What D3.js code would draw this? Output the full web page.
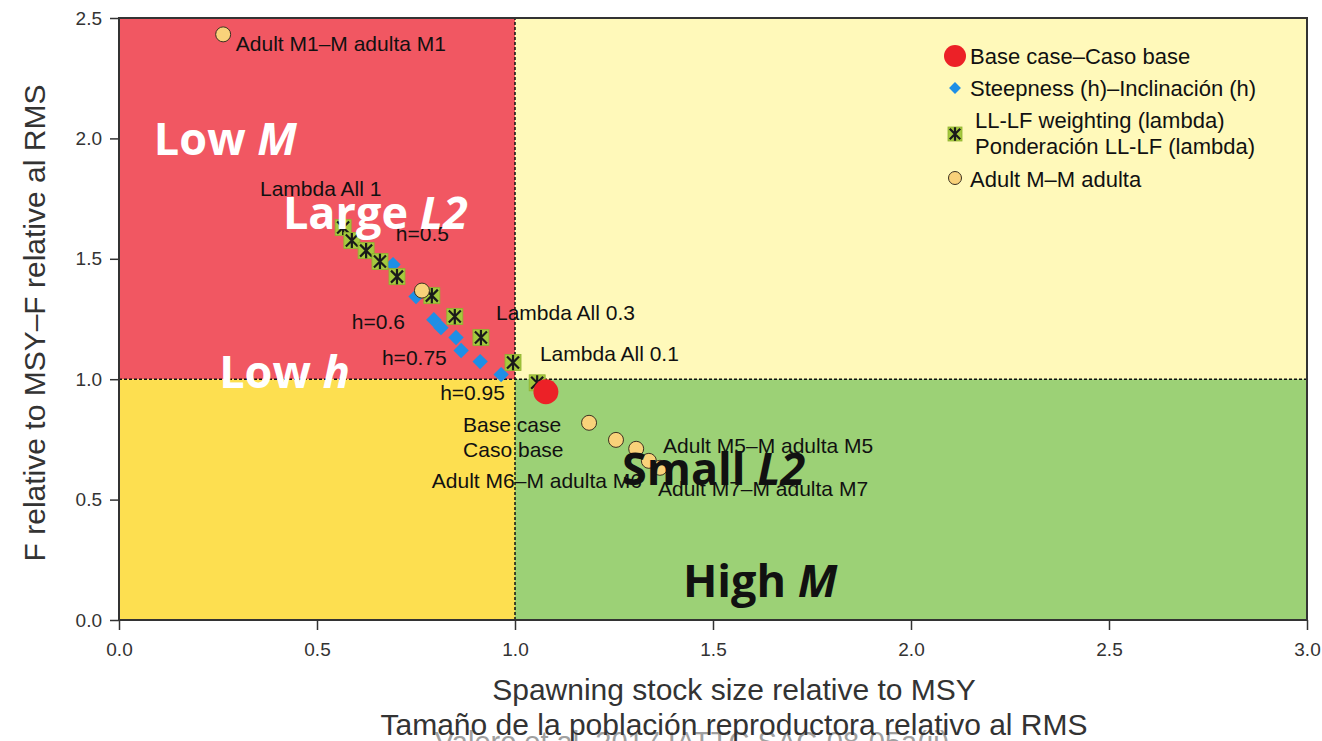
<!DOCTYPE html>
<html>
<head>
<meta charset="utf-8">
<script src="https://cdn.jsdelivr.net/npm/d3@7"></script>
<style>
  body { margin: 0; background: #fff; }
  text { font-family: "Liberation Sans", Arial, sans-serif; }
</style>
</head>
<body>
<svg id="chart" width="1322" height="741"></svg>
<script>
// data
const xTicks = [0, 0.5, 1, 1.5, 2, 2.5, 3];
const yTicks = [0, 0.5, 1, 1.5, 2, 2.5];

const baseCase = [[1.078, 0.948]];
const steepness = [
  [0.692, 1.476], [0.750, 1.343], [0.795, 1.247], [0.813, 1.214],
  [0.851, 1.173], [0.864, 1.119], [0.912, 1.073], [0.965, 1.019]
];
const lambdaPts = [
  [0.566, 1.630], [0.588, 1.576], [0.624, 1.534], [0.659, 1.489], [0.702, 1.426],
  [0.790, 1.347], [0.848, 1.260], [0.914, 1.173], [0.995, 1.069], [1.056, 0.985]
];
const adultM = [
  [0.263, 2.432], [0.765, 1.368], [1.187, 0.819], [1.255, 0.748],
  [1.306, 0.711], [1.338, 0.661], [1.366, 0.632]
];

const pointLabels = [
  { t: "Adult M1\u2013M adulta M1", x: 0.295, y: 2.362 },
  { t: "Lambda All 1", x: 0.356, y: 1.759 },
  { t: "h=0.5", x: 0.699, y: 1.572 },
  { t: "h=0.6", x: 0.588, y: 1.210 },
  { t: "h=0.75", x: 0.664, y: 1.060 },
  { t: "h=0.95", x: 0.811, y: 0.915 },
  { t: "Lambda All 0.3", x: 0.952, y: 1.247 },
  { t: "Lambda All 0.1", x: 1.063, y: 1.077 },
  { t: "Base case", x: 0.869, y: 0.782 },
  { t: "Caso base", x: 0.869, y: 0.678 },
  { t: "Adult M6\u2013M adulta M6", x: 0.790, y: 0.549 },
  { t: "Adult M5\u2013M adulta M5", x: 1.374, y: 0.694 },
  { t: "Adult M7\u2013M adulta M7", x: 1.361, y: 0.516 }
];

const zoneLabels = [
  { a: "Low ", b: "M", x: 0.088, y: 1.933, c: "#fff" },
  { a: "Large ", b: "L2", x: 0.414, y: 1.622, c: "#fff" },
  { a: "Low ", b: "h", x: 0.253, y: 0.965, c: "#fff" },
  { a: "Small ", b: "L2", x: 1.270, y: 0.561, c: "#111" },
  { a: "High ", b: "M", x: 1.424, y: 0.096, c: "#111" }
];

const svg = d3.select("#chart");
const margin = { left: 119, right: 15, top: 18, bottom: 121 };
const W = 1322, H = 741;

const x = d3.scaleLinear().domain([0, 3]).range([margin.left, W - margin.right]);
const y = d3.scaleLinear().domain([0, 2.5]).range([H - margin.bottom, margin.top]);

// quadrants
const quads = [
  { x0: 0, x1: 1, y0: 1, y1: 2.5, c: "#F15762" },
  { x0: 1, x1: 3, y0: 1, y1: 2.5, c: "#FFF9BA" },
  { x0: 0, x1: 1, y0: 0, y1: 1, c: "#FDDF50" },
  { x0: 1, x1: 3, y0: 0, y1: 1, c: "#9CD176" }
];
svg.append("g").selectAll("rect").data(quads).enter().append("rect")
  .attr("x", (d) => x(d.x0))
  .attr("y", (d) => y(d.y1))
  .attr("width", (d) => x(d.x1) - x(d.x0))
  .attr("height", (d) => y(d.y0) - y(d.y1))
  .attr("fill", (d) => d.c);

// reference lines
svg.append("line")
  .attr("x1", x(1)).attr("x2", x(1)).attr("y1", y(0)).attr("y2", y(2.5))
  .attr("stroke", "#111").attr("stroke-width", 1.5).attr("stroke-dasharray", "3,2");
svg.append("line")
  .attr("x1", x(0)).attr("x2", x(3)).attr("y1", y(1)).attr("y2", y(1))
  .attr("stroke", "#111").attr("stroke-width", 1.5).attr("stroke-dasharray", "3,2");

// frame
svg.append("rect")
  .attr("x", x(0)).attr("y", y(2.5))
  .attr("width", x(3) - x(0)).attr("height", y(0) - y(2.5))
  .attr("fill", "none").attr("stroke", "#333").attr("stroke-width", 2);

// axes
const xAxis = svg.append("g")
  .attr("transform", `translate(0,${y(0)})`)
  .call(d3.axisBottom(x).tickValues(xTicks).tickFormat(d3.format(".1f")).tickSize(10).tickPadding(13));
const yAxis = svg.append("g")
  .attr("transform", `translate(${x(0)},0)`)
  .call(d3.axisLeft(y).tickValues(yTicks).tickFormat(d3.format(".1f")).tickSize(9).tickPadding(8));
[xAxis, yAxis].forEach((g) => {
  g.select(".domain").remove();
  g.selectAll(".tick line").attr("stroke", "#333").attr("stroke-width", 1.5);
  g.selectAll(".tick text").attr("fill", "#333").style("font-size", "19px")
    .style("font-family", "'Liberation Sans', Arial, sans-serif");
});

// axis titles
svg.append("text")
  .attr("transform", `translate(45,${(y(0) + y(2.5)) / 2 + 4}) rotate(-90)`)
  .attr("text-anchor", "middle").attr("fill", "#333").style("font-size", "30px")
  .text("F relative to MSY\u2013F relative al RMS");
svg.append("text")
  .attr("x", 692).attr("y", 752).attr("text-anchor", "middle")
  .attr("fill", "#a0a0a0").style("font-size", "29px")
  .text("Valero et al. 2017 IATTC SAC-08-05a(ii)");
svg.append("text")
  .attr("x", 734).attr("y", 700).attr("text-anchor", "middle")
  .attr("fill", "#333").style("font-size", "30px")
  .text("Spawning stock size relative to MSY");
svg.append("text")
  .attr("x", 734).attr("y", 735).attr("text-anchor", "middle")
  .attr("fill", "#333").style("font-size", "30px")
  .text("Tama\u00f1o de la poblaci\u00f3n reproductora relativo al RMS");

// point labels
svg.append("g").selectAll("text").data(pointLabels).enter().append("text")
  .attr("x", (d) => x(d.x)).attr("y", (d) => y(d.y))
  .attr("fill", "#111").style("font-size", "21px")
  .text((d) => d.t);

// markers
const diamond = d3.symbol().type(d3.symbolDiamond2).size(150);
const lambdaMark = (g, size) => {
  const h = size / 2;
  g.append("rect").attr("x", -h).attr("y", -h).attr("width", size).attr("height", size)
    .attr("fill", "#A5C93E").attr("stroke", "#8FB230").attr("stroke-width", 0.8);
  const a = h * 0.75;
  g.append("path")
    .attr("d", `M${-a},${-a}L${a},${a}M${-a},${a}L${a},${-a}M0,${-h * 0.95}L0,${h * 0.95}`)
    .attr("stroke", "#1a1a1a").attr("stroke-width", 2.2);
};

svg.append("g").selectAll("path").data(steepness).enter().append("path")
  .attr("transform", (d) => `translate(${x(d[0])},${y(d[1])})`)
  .attr("d", diamond).attr("fill", "#1E8FE6");

svg.append("g").selectAll("g").data(lambdaPts).enter().append("g")
  .attr("transform", (d) => `translate(${x(d[0])},${y(d[1])})`)
  .each(function () { lambdaMark(d3.select(this), 16); });

svg.append("g").selectAll("circle").data(adultM).enter().append("circle")
  .attr("cx", (d) => x(d[0])).attr("cy", (d) => y(d[1])).attr("r", 7.5)
  .attr("fill", "#F9D27A").attr("stroke", "#3a3020").attr("stroke-width", 1);

svg.append("g").selectAll("circle").data(baseCase).enter().append("circle")
  .attr("cx", (d) => x(d[0])).attr("cy", (d) => y(d[1])).attr("r", 12.5)
  .attr("fill", "#EC2127");

// zone labels
const zl = svg.append("g").selectAll("text").data(zoneLabels).enter().append("text")
  .attr("x", (d) => x(d.x)).attr("y", (d) => y(d.y))
  .attr("fill", (d) => d.c)
  .style("font-family", "'Open Sans', sans-serif").style("font-weight", "bold")
  .style("font-size", "45px");
zl.append("tspan").text((d) => d.a);
zl.append("tspan").style("font-style", "italic").text((d) => d.b);

// legend
const legend = svg.append("g").attr("transform", "translate(955,0)");
legend.append("circle").attr("cx", 0).attr("cy", 56).attr("r", 11).attr("fill", "#EC2127");
legend.append("path").attr("transform", "translate(0,88)")
  .attr("d", d3.symbol().type(d3.symbolDiamond2).size(90)).attr("fill", "#1E8FE6");
const lg = legend.append("g").attr("transform", "translate(0,134)");
lambdaMark(lg, 14);
legend.append("circle").attr("cx", 0).attr("cy", 178).attr("r", 6.5)
  .attr("fill", "#F9D27A").attr("stroke", "#3a3020").attr("stroke-width", 1);

const legendText = [
  { t: "Base case\u2013Caso base", x: 15, y: 64 },
  { t: "Steepness (h)\u2013Inclinaci\u00f3n (h)", x: 15, y: 96 },
  { t: "LL-LF weighting (lambda)", x: 20, y: 128 },
  { t: "Ponderaci\u00f3n LL-LF (lambda)", x: 20, y: 154 },
  { t: "Adult M\u2013M adulta", x: 15, y: 187 }
];
legend.selectAll("text.lg").data(legendText).enter().append("text")
  .attr("x", (d) => d.x).attr("y", (d) => d.y)
  .attr("fill", "#111").style("font-size", "22px")
  .text((d) => d.t);
</script>
</body>
</html>
